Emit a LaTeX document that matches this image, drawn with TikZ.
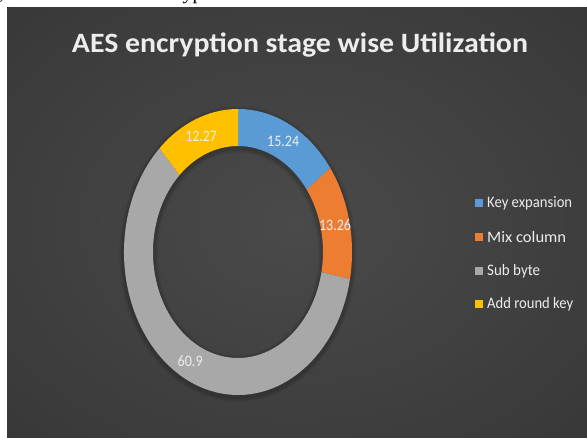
\documentclass[tikz,border=0pt]{standalone}
\usepackage{fontspec}
\setmainfont{Carlito}
\newfontfamily\capfont{Liberation Serif}
\usepackage{graphicx}
\usetikzlibrary{calc}

% slice and background colours
\definecolor{keyexp}{HTML}{5B9BD5}
\definecolor{mixcol}{HTML}{ED7D31}
\definecolor{subbyte}{HTML}{A8A8A8}
\definecolor{addkey}{HTML}{FFC000}
\definecolor{bgin}{HTML}{4A4A4A}
\definecolor{bgmid}{HTML}{3C3C3C}
\definecolor{bgout}{HTML}{252525}
\definecolor{txt}{HTML}{EDEDED}

\pgfdeclareradialshading{chartbg}{\pgfpoint{0bp}{0bp}}{%
  color(0bp)=(bgin); color(28bp)=(bgmid); color(72bp)=(bgout)}

% text squeezed horizontally to a given width
\newcommand\fitw[2]{\resizebox{#1}{\height}{#2}}

% one slice of the ring, from angle #2 to angle #3 (clockwise)
\newcommand\ringslice[3]{%
  \fill[#1] ([shift={(#2:114 and 143)}]ring)
    arc[start angle=#2, end angle=#3, x radius=114, y radius=143]
    -- ([shift={(#3:85 and 106)}]ring)
    arc[start angle=#3, end angle=#2, x radius=85, y radius=106] -- cycle;}

\tikzset{
  vlabel/.style={text=txt, inner sep=0pt, font=\fontsize{16}{16}\selectfont},
  legtext/.style={text=txt, inner sep=0pt, anchor=west, font=\fontsize{16}{16}\selectfont},
  legbox/.style={minimum size=8pt, inner sep=0pt, draw=none},
}

\begin{document}
\begin{tikzpicture}[x=1pt, y=1pt]
  \useasboundingbox (0,0) rectangle (587,437);
  \fill[white] (0,0) rectangle (587,437);

  % caption line of the page above, cut by the chart
  \node[anchor=base west, inner sep=0pt, font=\capfont\fontsize{20}{20}\selectfont]
    (captail) at (148,437.5) {encryption};
  \node[anchor=base west, inner sep=0pt, font=\capfont\fontsize{20}{20}\selectfont]
    (capcomma) at (-1,437.5) {,};

  % chart area
  \shade[shading=chartbg] (7,0) rectangle (587,429);

  % title
  \node[text=txt, inner sep=0pt, anchor=base, font=\fontsize{28}{28}\selectfont\bfseries]
    (title) at (300,384.5) {\fitw{456pt}{AES encryption stage wise Utilization}};

  % doughnut with a soft shadow
  \coordinate (ring) at (238,185);
  \foreach \k/\o in {5/0.03,4/0.04,3/0.05,2/0.06}{
    \fill[black, opacity=\o, even odd rule]
      ($(ring)+(0,-2)$) ellipse [x radius=114+\k, y radius=143+\k]
      ($(ring)+(0,-2)$) ellipse [x radius=85-\k, y radius=106-\k];
  }
  \ringslice{keyexp}{90}{36.04}
  \ringslice{mixcol}{36.04}{-10.91}
  \ringslice{subbyte}{-10.91}{-226.55}
  \ringslice{addkey}{-226.55}{-270}

  % value labels
  \node[vlabel] (vkey) at ($(ring)+(63.02:99.5 and 124.5)$) {\fitw{32pt}{15.24}};
  \node[vlabel] (vmix) at ($(ring)+(12.57:99.5 and 124.5)$) {\fitw{32pt}{13.26}};
  \node[vlabel] (vsub) at ($(ring)+(-118.73:99.5 and 124.5)$) {\fitw{25pt}{60.9}};
  \node[vlabel] (vadd) at ($(ring)+(111.72:99.5 and 124.5)$) {\fitw{31pt}{12.27}};

  % legend
  \node[legbox, fill=keyexp]  (lk) at (479,234) {};
  \node[legbox, fill=mixcol]  (lm) at (479,200) {};
  \node[legbox, fill=subbyte] (ls) at (479,166) {};
  \node[legbox, fill=addkey]  (la) at (479,133) {};
  \node[legtext] (tk) at (487,234) {\fitw{85pt}{Key expansion}};
  \node[legtext] (tm) at (487,200) {\fitw{79pt}{Mix column}};
  \node[legtext] (ts) at (487,166) {\fitw{53pt}{Sub byte}};
  \node[legtext] (ta) at (487,133) {\fitw{86pt}{Add round key}};
\end{tikzpicture}
\end{document}
